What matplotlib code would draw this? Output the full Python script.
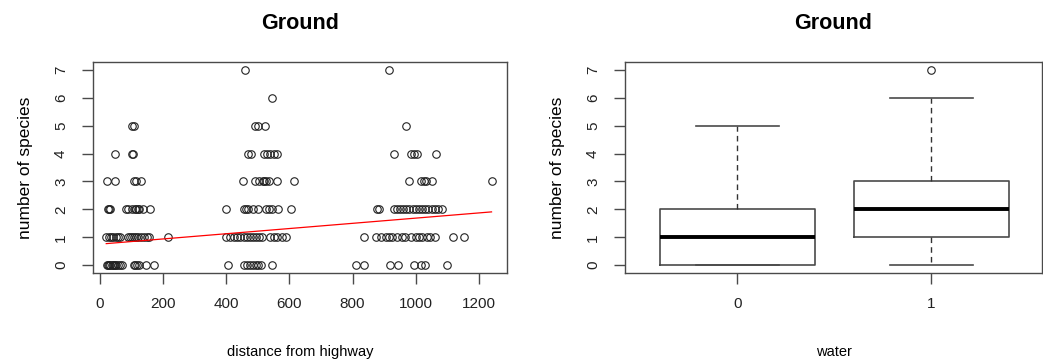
import numpy as np
import matplotlib
matplotlib.use("Agg")
import matplotlib.pyplot as plt

plt.rcParams['font.family'] = ['Liberation Sans', 'DejaVu Sans']

# distances from highway (m), grouped by observed number of species
dist_by_species = {
    0: [22, 26, 30, 33, 37, 40, 44, 48, 52, 57, 63, 70, 108, 112, 118, 124, 145, 170,
        405, 455, 465, 475, 485, 495, 500, 510, 545,
        812, 836, 918, 944, 995, 1018, 1028, 1100],
    1: [20, 28, 35, 42, 50, 58, 65, 88, 95, 100, 108, 115, 122, 130, 138, 148, 155, 215,
        400, 412, 425, 435, 445, 455, 465, 475, 485, 495, 505, 512, 540, 550, 560, 575, 590,
        835, 875, 890, 905, 915, 925, 940, 955, 965, 985, 1000, 1010, 1020, 1035, 1045, 1060,
        1118, 1152],
    2: [25, 28, 31, 82, 90, 100, 110, 115, 120, 125, 135, 160,
        400, 455, 462, 470, 485, 500, 525, 535, 545, 565, 605,
        878, 885, 930, 940, 950, 960, 970, 980, 990, 1000, 1010, 1020, 1030, 1040, 1050,
        1060, 1070, 1083],
    3: [22, 48, 108, 115, 130,
        452, 492, 505, 515, 520, 525, 535, 560, 615,
        978, 1018, 1025, 1032, 1050, 1240],
    4: [48, 102, 106, 470, 478, 520, 530, 540, 550, 560, 930, 985, 995, 1005, 1065],
    5: [102, 108, 492, 500, 522, 969],
    6: [544],
    7: [459, 916],
}

# linear fit shown in red
fit_intercept = 0.754
fit_slope = 0.000932

# boxplot summary for species by water presence
water_groups = ["0", "1"]
box_q1 = [0, 1]
box_med = [1, 2]
box_q3 = [2, 3]
box_whislo = [0, 0]
box_whishi = [5, 6]
box_fliers = [[], [7]]

dist = np.concatenate([dist_by_species[k] for k in dist_by_species])
species = np.concatenate([[k] * len(v) for k, v in dist_by_species.items()])

fig = plt.figure(figsize=(10.43, 3.63), dpi=100)
W, H = 1043, 363
ax1 = fig.add_axes([93 / W, 1 - 273 / H, (507 - 93) / W, (273 - 62) / H])
ax2 = fig.add_axes([625 / W, 1 - 273 / H, (1042 - 625) / W, (273 - 62) / H])

edge = '#4a4a4a'

# scatter + fitted line
ax1.plot(dist, species, 'o', ms=5.4, mfc='none', mec='#222222', mew=0.8)
xs = np.array([dist.min(), dist.max()])
ax1.plot(xs, fit_intercept + fit_slope * xs, color='red', lw=0.9)
ax1.set_xlim(-22, 1289)
ax1.set_xticks(np.arange(0, 1201, 200))
ax1.set_xlabel('distance from highway', fontsize=10.5, labelpad=25)

# boxplot
stats = []
for i in range(2):
    stats.append(dict(med=box_med[i], q1=box_q1[i], q3=box_q3[i],
                      whislo=box_whislo[i], whishi=box_whishi[i],
                      fliers=box_fliers[i], label=water_groups[i]))
ax2.bxp(stats, positions=[0, 1], widths=0.8, showfliers=True, patch_artist=False,
        boxprops=dict(color=edge, lw=1.2),
        medianprops=dict(color='black', lw=2.8, solid_capstyle='butt'),
        whiskerprops=dict(color='#333333', lw=1.0, ls=(0, (4, 3))),
        capprops=dict(color=edge, lw=1.2),
        capwidths=0.43,
        flierprops=dict(marker='o', ms=5.4, mfc='none', mec='#222222', mew=0.8))
ax2.set_xlim(-0.58, 1.57)
ax2.set_xlabel('water', fontsize=10.5, labelpad=25)

for ax in (ax1, ax2):
    ax.set_ylim(-0.28, 7.28)
    ax.set_yticks(range(8))
    ax.set_ylabel('number of species', fontsize=12.5, labelpad=15)
    ax.set_title('Ground', fontsize=15.5, fontweight='bold', pad=24)
    for s in ax.spines.values():
        s.set_color(edge)
        s.set_linewidth(1.0)
    ax.tick_params(axis='both', direction='out', length=8, width=1.0, color=edge,
                   labelsize=11, colors='#222222')
    ax.tick_params(axis='x', pad=9)
    ax.tick_params(axis='y', pad=10)
    for lab in ax.get_yticklabels():
        lab.set_rotation(90)
        lab.set_va('center')

fig.savefig('out.png', dpi=100)
